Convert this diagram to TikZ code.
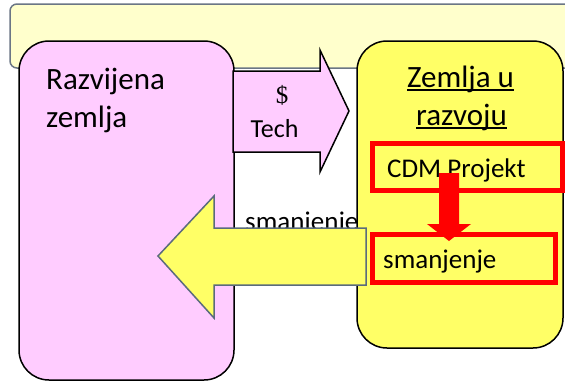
\documentclass[tikz,border=0pt]{standalone}
\usepackage{fontspec}
\setmainfont{Carlito}
\newfontfamily\dollarfont{Liberation Serif}
\definecolor{bannerfill}{HTML}{FFFFCC}
\definecolor{bannerline}{HTML}{6B7685}
\definecolor{pinkfill}{HTML}{FFCCFF}
\definecolor{yellowfill}{HTML}{FFFF66}
\definecolor{arrowline}{HTML}{5A6B7D}
% underline drawn through the descenders, like a slide underline
\newcommand{\slideul}[1]{\setbox0=\hbox{#1}\rlap{\vrule height -2pt depth 4pt width \wd0}\box0}
\begin{document}
\begin{tikzpicture}[x=1pt,y=-1pt,
  panel/.style={draw=black,line width=1.5pt,rounded corners=30pt},
  redframe/.style={draw=red,line width=5pt},
  lbl/.style={inner sep=0pt,text=black},
  bigtxt/.style={lbl,font=\fontsize{31}{38}\selectfont},
  midtxt/.style={lbl,font=\fontsize{27}{33}\selectfont},
]
\useasboundingbox (0,0) rectangle (565,381);
\fill[white] (0,0) rectangle (565,381);

% title banner behind everything
\draw[fill=bannerfill,draw=bannerline,line width=1.5pt,rounded corners=7pt]
  (10,4) rectangle (600,68);

% the two countries
\draw[panel,fill=pinkfill] (19,41) rectangle (234,380);
\draw[panel,fill=yellowfill] (357,41) rectangle (563,348);

% money and technology flow
\draw[fill=pinkfill,draw=black,line width=1.5pt,line join=miter]
  (233,71) -- (320,71) -- (320,50) -- (349,111) -- (320,172) -- (320,152) -- (233,152) -- cycle;
\node[lbl,anchor=base,font=\dollarfont\fontsize{25}{30}\selectfont] (dollar) at (282,103) {\$};
\node[lbl,anchor=base,font=\fontsize{26}{32}\selectfont] (tech) at (274.5,137) {Tech};

% labels of the developed country
\node[bigtxt,anchor=base west] (razv1) at (46,89) {Razvijena};
\node[bigtxt,anchor=base west] (razv2) at (46,127) {zemlja};

% labels of the developing country
\node[bigtxt,anchor=base] (dev1) at (460.5,87) {\slideul{Zemlja u}};
\node[bigtxt,anchor=base] (dev2) at (461.5,125) {\slideul{razvoju}};

% text partly hidden behind the return arrow
\node[midtxt,anchor=base west] (hidden) at (245,230) {smanjenje};

% CDM project frame
\draw[redframe] (372.5,143.5) rectangle (562,190.5);
\node[midtxt,anchor=base west] (cdm) at (387,177) {CDM Projekt};

% red arrow down to the reduction
\fill[red] (439,173) -- (459,173) -- (459,224) -- (471,224) -- (449,241) -- (427,224) -- (439,224) -- cycle;

% return arrow towards the developed country
\draw[fill=yellowfill,draw=arrowline,line width=1.5pt,line join=miter]
  (158,256) -- (214,196) -- (214,228) -- (366,228) -- (366,285) -- (214,285) -- (214,318) -- cycle;

% reduction frame
\draw[redframe] (372.5,234.5) rectangle (555.5,282.5);
\node[midtxt,anchor=base west] (red) at (383,268) {smanjenje};
\end{tikzpicture}
\end{document}
